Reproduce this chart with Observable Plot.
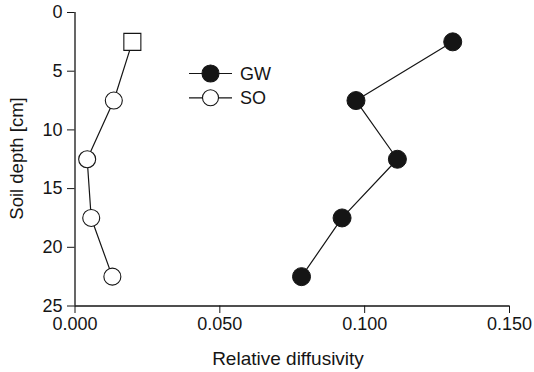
<!DOCTYPE html>
<html>
<head>
<meta charset="utf-8">
<script src="https://cdn.jsdelivr.net/npm/d3@7"></script>
<script src="https://cdn.jsdelivr.net/npm/@observablehq/plot@0.6"></script>
<style>
  html, body { margin: 0; padding: 0; background: #fff; }
  #wrap { position: relative; width: 534px; height: 372px; font-family: "Liberation Sans", Arial, Helvetica, sans-serif; }
  #legend { position: absolute; left: 0; top: 0; }
</style>
</head>
<body>
<div id="wrap"></div>
<script>
const depths = [2.5, 7.5, 12.5, 17.5, 22.5];
const gwValues = [0.1304, 0.0970, 0.1113, 0.0922, 0.0782];
const soValues = [0.0198, 0.0134, 0.0042, 0.0056, 0.0129];
const soMarkers = ["square", "circle", "circle", "circle", "circle"];
const xTicks = [0, 0.05, 0.1, 0.15];
const yTicks = [0, 5, 10, 15, 20, 25];
const seriesNames = ["GW", "SO"];

const gw = depths.map((d, i) => ({depth: d, value: gwValues[i]}));
const so = depths.map((d, i) => ({depth: d, value: soValues[i], marker: soMarkers[i]}));

const ink = "#151515";
const fs = 18;

const chart = Plot.plot({
  width: 534,
  height: 372,
  marginLeft: 74.5,
  marginRight: 25,
  marginTop: 12,
  marginBottom: 66.5,
  style: {fontFamily: "'Liberation Sans', Arial, Helvetica, sans-serif", fontSize: fs + "px", color: ink, background: "#fff"},
  x: {domain: [0, 0.15]},
  y: {domain: [0, 25], reverse: true},
  marks: [
    Plot.axisX({ticks: xTicks, tickFormat: d3.format(".3f"), tickSize: 7.5, tickPadding: 4, label: null, fontSize: fs, stroke: ink}),
    Plot.axisY({ticks: yTicks, tickSize: 7.5, tickPadding: 5, label: null, fontSize: fs, stroke: ink}),
    Plot.ruleX([0], {stroke: ink, strokeWidth: 1.3}),
    Plot.ruleY([25], {stroke: ink, strokeWidth: 1.3}),
    Plot.line(gw, {x: "value", y: "depth", stroke: ink, strokeWidth: 1.2}),
    Plot.line(so, {x: "value", y: "depth", stroke: ink, strokeWidth: 1.2}),
    Plot.dot(gw, {x: "value", y: "depth", r: 9, fill: ink, stroke: ink, strokeWidth: 1}),
    Plot.dot(so.filter(d => d.marker === "circle"), {x: "value", y: "depth", r: 8.5, fill: "#fff", stroke: ink, strokeWidth: 1.1}),
    Plot.dot(so.filter(d => d.marker === "square"), {x: "value", y: "depth", symbol: "square", r: 9.6, fill: "#fff", stroke: ink, strokeWidth: 1.1})
  ]
});
document.getElementById("wrap").appendChild(chart);

// Axis titles and legend overlay
const lg = d3.select("#wrap").append("svg").attr("id", "legend").attr("width", 534).attr("height", 372)
  .style("font-family", "'Liberation Sans', Arial, Helvetica, sans-serif").style("font-size", fs + "px");
lg.append("text").attr("x", 288).attr("y", 358).attr("dy", "0.36em").attr("text-anchor", "middle").attr("fill", ink).style("font-size", "19px").text("Relative diffusivity");
lg.append("text").attr("transform", "translate(16,158.5) rotate(-90)").attr("dy", "0.36em").attr("text-anchor", "middle").attr("fill", ink).style("font-size", "18.5px").text("Soil depth [cm]");
seriesNames.forEach((name, i) => {
  const y = 73.5 + i * 24.3;
  lg.append("line").attr("x1", 189).attr("x2", 232).attr("y1", y).attr("y2", y).attr("stroke", ink).attr("stroke-width", 1.2);
  lg.append("circle").attr("cx", 210.5).attr("cy", y).attr("r", i === 0 ? 8.5 : 8)
    .attr("fill", i === 0 ? ink : "#fff").attr("stroke", ink).attr("stroke-width", 1.1);
  lg.append("text").attr("x", 240).attr("y", y).attr("dy", "0.36em").attr("fill", ink).text(name);
});
</script>
</body>
</html>
